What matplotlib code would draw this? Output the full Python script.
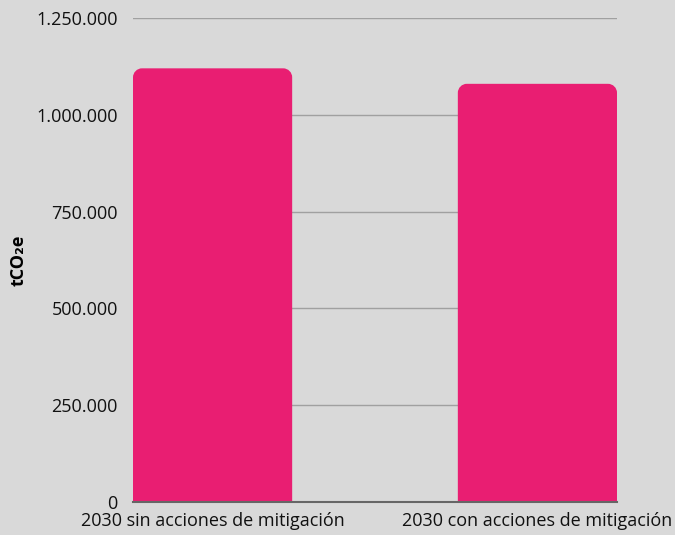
import matplotlib
matplotlib.use("Agg")
import matplotlib.pyplot as plt
from matplotlib.path import Path
from matplotlib.patches import PathPatch
from matplotlib.ticker import FuncFormatter

plt.rcParams['font.family'] = ['Open Sans', 'DejaVu Sans']

categories = ["2030 sin acciones de mitigación", "2030 con acciones de mitigación"]
values = [1120000, 1080000]
y_ticks = [0, 250000, 500000, 750000, 1000000, 1250000]

bg = "#d9d9d9"
bar_color = "#e91e72"

fig = plt.figure(figsize=(6.75, 5.35), dpi=100, facecolor=bg)
ax = fig.add_axes([133 / 675, 1 - 502 / 535, 484 / 675, (502 - 18) / 535])
ax.set_facecolor(bg)

width = 0.49
bars = ax.bar(range(len(categories)), values, width=width, color="none", zorder=3)
ax.set_xlim(-width / 2, len(categories) - 1 + width / 2)
ax.set_ylim(0, 1250000)

# rounded top corners, radius in pixels converted to data units
fig.canvas.draw()
bbox = ax.get_window_extent()
r_px = 9
rx = r_px * (ax.get_xlim()[1] - ax.get_xlim()[0]) / bbox.width
ry = r_px * (ax.get_ylim()[1] - ax.get_ylim()[0]) / bbox.height
k = 0.5523
for b in bars:
    x0, y0 = b.get_x(), b.get_y()
    x1, y1 = x0 + b.get_width(), y0 + b.get_height()
    verts = [
        (x0, y0), (x0, y1 - ry),
        (x0, y1 - ry + k * ry), (x0 + rx - k * rx, y1), (x0 + rx, y1),
        (x1 - rx, y1),
        (x1 - rx + k * rx, y1), (x1, y1 - ry + k * ry), (x1, y1 - ry),
        (x1, y0), (x0, y0),
    ]
    codes = [Path.MOVETO, Path.LINETO,
             Path.CURVE4, Path.CURVE4, Path.CURVE4,
             Path.LINETO,
             Path.CURVE4, Path.CURVE4, Path.CURVE4,
             Path.LINETO, Path.CLOSEPOLY]
    ax.add_patch(PathPatch(Path(verts, codes), facecolor=bar_color,
                           edgecolor="none", zorder=3))

ax.set_yticks(y_ticks)
ax.yaxis.set_major_formatter(FuncFormatter(lambda v, p: f"{int(v):,}".replace(",", ".")))
ax.set_xticks(range(len(categories)))
ax.set_xticklabels(categories)
ax.tick_params(axis="both", length=0, labelsize=13, colors="#111111")
ax.tick_params(axis="y", pad=11)
ax.tick_params(axis="x", pad=7)

ax.grid(axis="y", color="#a0a0a0", linewidth=1, zorder=0)
for s in ["top", "right", "left"]:
    ax.spines[s].set_visible(False)
ax.spines["bottom"].set_color("#666666")
ax.spines["bottom"].set_linewidth(1.5)
ax.spines["bottom"].set_zorder(4)

ax.set_ylabel("tCO₂e", fontsize=13, fontweight="bold", labelpad=6)

fig.savefig("out.png", dpi=100, facecolor=bg)
